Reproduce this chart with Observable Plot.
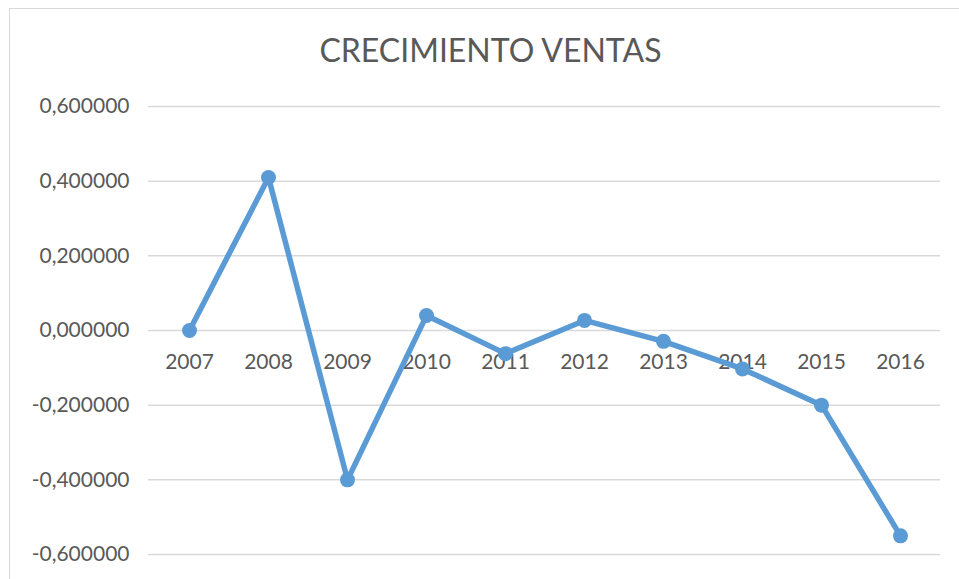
<!DOCTYPE html>
<html>
<head>
<meta charset="utf-8">
<script src="https://cdn.jsdelivr.net/npm/d3@7"></script>
<script src="https://cdn.jsdelivr.net/npm/@observablehq/plot@0.6"></script>
<style>
  html, body { margin: 0; padding: 0; background: #fff; }
  #wrap { position: relative; width: 959px; height: 579px; overflow: hidden; font-family: Lato, "Open Sans", sans-serif; }
  #border { position: absolute; left: 9px; top: 8px; width: 1000px; height: 1000px; border: 1.5px solid #d9d9d9; box-sizing: border-box; }
  #title { position: absolute; left: 0; top: 34px; width: 981px; text-align: center; font-size: 32px; line-height: 32px; color: #595959; }
  #chart { position: absolute; left: 0; top: 0; }
</style>
</head>
<body>
<div id="wrap">
  <div id="border"></div>
  <div id="chart"></div>
  <div id="title">CRECIMIENTO VENTAS</div>
</div>
<script>
const years = ["2007","2008","2009","2010","2011","2012","2013","2014","2015","2016"];
const growth = [0.000, 0.410, -0.400, 0.040, -0.062, 0.027, -0.029, -0.103, -0.200, -0.550];
const yTicks = [-0.6, -0.4, -0.2, 0, 0.2, 0.4, 0.6];

const data = years.map((y, i) => ({year: y, value: growth[i]}));
const locale = d3.formatLocale({decimal: ",", thousands: ".", grouping: [3], currency: ["", "€"], minus: "-"});
const fmt = locale.format(".6f");

const chart = Plot.plot({
  width: 959,
  height: 579,
  marginLeft: 148,
  marginRight: 19,
  marginTop: 106,
  marginBottom: 25,
  style: {fontFamily: "Lato, 'Open Sans', sans-serif", fontSize: "21px", color: "#595959", background: "transparent"},
  x: {type: "point", domain: years, padding: 0.5, axis: null},
  y: {domain: [-0.6, 0.6], axis: null},
  marks: [
    Plot.ruleY(yTicks, {stroke: "#d9d9d9", strokeWidth: 1.5}),
    Plot.axisY({ticks: yTicks, tickSize: 0, tickPadding: 19, tickFormat: fmt, fontSize: 21, fill: "#595959", label: null}),
    Plot.text(data, {x: "year", y: 0, text: "year", dy: 32, fontSize: 21, fill: "#595959"}),
    Plot.line(data, {x: "year", y: "value", stroke: "#5b9bd5", strokeWidth: 5.5, strokeLinejoin: "round", strokeLinecap: "round"}),
    Plot.dot(data, {x: "year", y: "value", r: 7.5, fill: "#5b9bd5", stroke: "none"})
  ]
});
document.getElementById("chart").appendChild(chart);
</script>
</body>
</html>
